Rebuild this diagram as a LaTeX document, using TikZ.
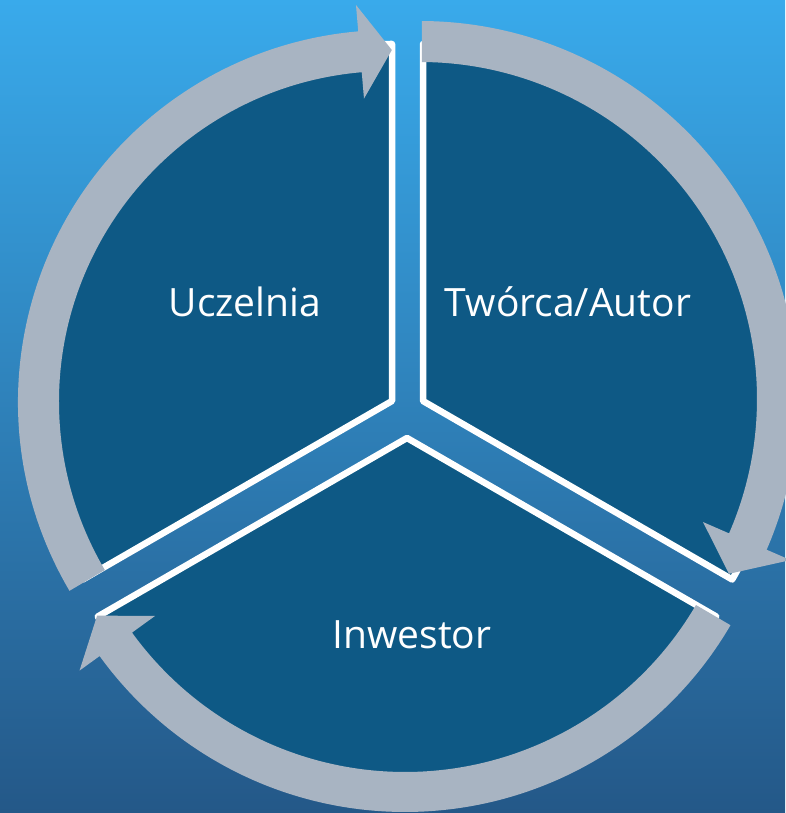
\documentclass[tikz,border=0pt]{standalone}
\usepackage{fontspec}
\setmainfont{Open Sans}
\definecolor{bgtop}{RGB}{57,170,235}
\definecolor{bgmid}{RGB}{46,128,190}
\definecolor{bgbot}{RGB}{36,88,136}
\definecolor{secblue}{RGB}{14,89,133}
\definecolor{arrgray}{RGB}{168,180,194}
\begin{document}
\begin{tikzpicture}[x=1pt,y=1pt,
  sector/.style={fill=secblue, draw=white, line width=6.5pt, line join=round},
  garrow/.style={fill=arrgray},
  lbl/.style={text=white, font=\fontsize{39}{47}\selectfont, anchor=base, inner sep=0pt}]
\useasboundingbox (0,0) rectangle (785,813);
\shade[top color=bgtop, middle color=bgmid, bottom color=bgbot] (0,0) rectangle (785,813);

% pie sectors
\coordinate (c1) at (392,412);
\coordinate (c2) at (423,412);
\coordinate (c3) at (407,375);
\filldraw[sector] (c1) -- ++(90:357) arc[start angle=90, end angle=210, radius=357] -- cycle;
\filldraw[sector] (c2) -- ++(-30:357) arc[start angle=-30, end angle=90, radius=357] -- cycle;
\filldraw[sector] (c3) -- ++(210:357) arc[start angle=210, end angle=330, radius=357] -- cycle;

% circular arrows
\begin{scope}[shift={(390,411)}]
\fill[garrow] (210.5:372) arc[start angle=210.5, end angle=94.9, radius=372]
  -- (94.9:398.5) -- (89.7:352) -- (94.9:304.5) -- (94.9:331)
  arc[start angle=94.9, end angle=210.5, radius=331] -- cycle;
\end{scope}
\begin{scope}[shift={(420,414)}]
\fill[garrow] (89.7:378) arc[start angle=89.7, end angle=-23.5, radius=378]
  -- (-23.5:404) -- (-29.5:355) -- (-23.5:308.6) -- (-23.5:337)
  arc[start angle=-23.5, end angle=89.7, radius=337] -- cycle;
\end{scope}
\begin{scope}[shift={(405,378)}]
\fill[garrow] (-30.3:377) arc[start angle=-30.3, end angle=-144.1, radius=377]
  -- (-144.1:401.8) -- (-149.6:357) -- (-144.1:308.6) -- (-144.1:337)
  arc[start angle=-144.1, end angle=-30.3, radius=337] -- cycle;
\end{scope}

% labels
\node[lbl] (uczelnia) at (245,496) {Uczelnia};
\node[lbl] (tworca) at (568,496) {Twórca/Autor};
\node[lbl] (inwestor) at (412,164) {Inwestor};
\end{tikzpicture}
\end{document}
